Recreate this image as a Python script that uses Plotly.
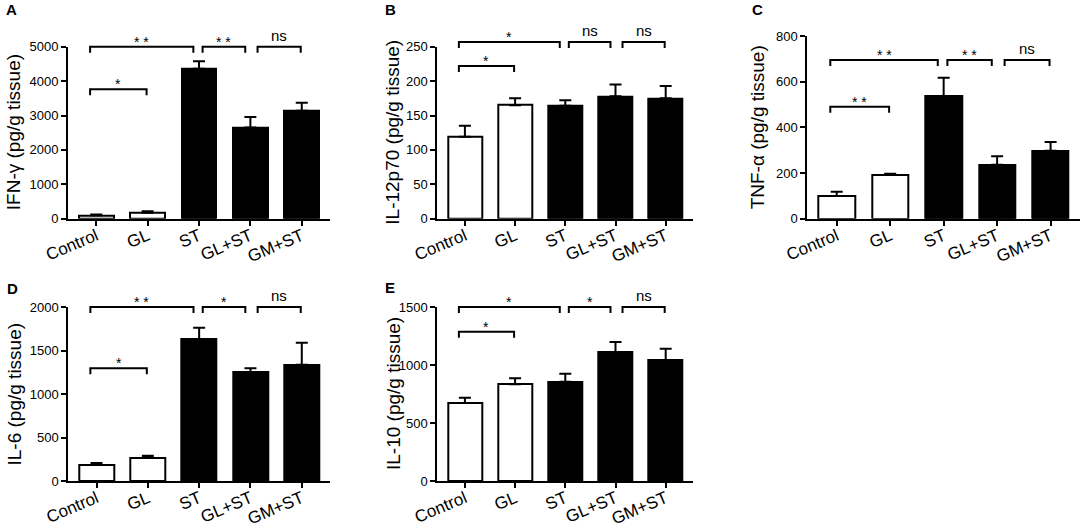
import plotly.graph_objects as go

categories = ["Control", "GL", "ST", "GL+ST", "GM+ST"]
bar_fill = ["white", "white", "black", "black", "black"]

ifn_mean = [100, 175, 4360, 2650, 3140]
ifn_err = [25, 40, 220, 310, 230]
il12_mean = [119, 165, 164, 178, 175]
il12_err = [16, 10, 8, 17, 18]
tnf_mean = [99, 193, 537, 236, 298]
tnf_err = [19, 4, 80, 38, 38]
il6_mean = [184, 268, 1628, 1249, 1337]
il6_err = [23, 23, 134, 46, 253]
il10_mean = [672, 833, 856, 1109, 1040]
il10_err = [46, 52, 69, 89, 101]

# significance: labels for (Control-ST, ST-GL+ST, GL+ST-GM+ST, Control-GL)
ifn_sig = ["* *", "* *", "ns", "*"]
il12_sig = ["*", "ns", "ns", "*"]
tnf_sig = ["* *", "* *", "ns", "* *"]
il6_sig = ["* *", "*", "ns", "*"]
il10_sig = ["*", "*", "ns", "*"]
# bracket heights (top row, Control-GL)
ifn_sig_y = [5000, 3760]
il12_sig_y = [257, 222]
tnf_sig_y = [695, 490]
il6_sig_y = [2000, 1295]
il10_sig_y = [1500, 1287]

y_titles = ["IFN-γ (pg/g tissue)", "IL-12p70 (pg/g tissue)", "TNF-α (pg/g tissue)",
            "IL-6 (pg/g tissue)", "IL-10 (pg/g tissue)"]
y_max = [5000, 250, 800, 2000, 1500]
y_dtick = [1000, 50, 200, 500, 500]
panel_letters = ["A", "B", "C", "D", "E"]

W, H = 1084, 528
FONT = "Arial, Liberation Sans, sans-serif"

# pixel boxes in page coordinates (x0, x1, ytop, ybottom)
boxes = [
    (68, 330, 46.7, 218.7),
    (437.3, 693.3, 46.7, 218.7),
    (807.3, 1080, 36, 218.7),
    (68.3, 330, 307, 481),
    (437.3, 693.3, 307, 481),
]
title_x = [13.5, 393, 757, 13.5, 393]
letter_pos = [(11, 10), (390, 10), (757, 10), (12, 288), (390, 287)]


def px(v):
    return v / W


def py(v):
    return 1 - v / H


# bracket spans in category units (style)
spans = [(-0.12, 1.89), (2.07, 2.9), (3.14, 3.98), (-0.12, 0.98)]

means = [ifn_mean, il12_mean, tnf_mean, il6_mean, il10_mean]
errs = [ifn_err, il12_err, tnf_err, il6_err, il10_err]
sigs = [ifn_sig, il12_sig, tnf_sig, il6_sig, il10_sig]
sig_ys = [ifn_sig_y, il12_sig_y, tnf_sig_y, il6_sig_y, il10_sig_y]

fig = go.Figure()
shapes = []
annotations = []
layout = {}

for i in range(5):
    sfx = "" if i == 0 else str(i + 1)
    xa, ya = "x" + sfx, "y" + sfx
    x0, x1, yt, yb = boxes[i]
    fig.add_trace(go.Bar(
        x=list(range(5)), y=means[i], xaxis=xa, yaxis=ya,
        width=0.68,
        marker=dict(color=bar_fill, line=dict(color="black", width=2)),
        error_y=dict(type="data", symmetric=False, array=errs[i],
                     arrayminus=[0] * 5, color="black", thickness=2, width=6),
        showlegend=False, hoverinfo="skip",
    ))
    layout["xaxis" + sfx] = dict(
        domain=[px(x0), px(x1)], anchor=ya, range=[-0.55, 4.55], automargin=False,
        tickmode="array", tickvals=list(range(5)), ticktext=categories,
        tickangle=-23, ticks="outside", ticklen=5, tickwidth=2, tickcolor="black",
        ticklabelstandoff=-6,
        showline=True, linecolor="black", linewidth=2, showgrid=False, zeroline=False,
        tickfont=dict(family=FONT, size=17, color="black"), fixedrange=True,
    )
    layout["yaxis" + sfx] = dict(
        domain=[py(yb), py(yt)], anchor=xa, range=[0, y_max[i]], automargin=False,
        dtick=y_dtick[i], tick0=0, ticks="outside", ticklen=5, tickwidth=2,
        tickcolor="black", showline=True, linecolor="black", linewidth=2,
        showgrid=False, zeroline=False,
        tickfont=dict(family=FONT, size=13, color="black"), fixedrange=True,
    )
    # y title
    annotations.append(dict(
        text=y_titles[i], xref="paper", yref=ya + " domain", x=px(title_x[i]), y=0.5,
        xanchor="center", yanchor="middle", textangle=-90, showarrow=False,
        font=dict(family=FONT, size=19, color="black"),
    ))
    # panel letter
    lx, ly = letter_pos[i]
    annotations.append(dict(
        text="<b>" + panel_letters[i] + "</b>", xref="paper", yref="paper",
        x=px(lx), y=py(ly), xanchor="center", yanchor="middle", showarrow=False,
        font=dict(family=FONT, size=15, color="black"),
    ))
    # brackets
    for k in range(4):
        sx0, sx1 = spans[k]
        yv = sig_ys[i][0] if k < 3 else sig_ys[i][1]
        yd = yv / y_max[i]
        tick = 6 / (yb - yt)
        shapes.append(dict(
            type="path", xref=xa, yref=ya + " domain",
            path=f"M {sx0},{yd - tick} L {sx0},{yd} L {sx1},{yd} L {sx1},{yd - tick}",
            line=dict(color="black", width=2),
        ))
        lab = sigs[i][k]
        is_ns = lab == "ns"
        annotations.append(dict(
            text=lab, xref=xa, yref=ya + " domain", x=(sx0 + sx1) / 2, y=yd,
            xanchor="center", yanchor="bottom", showarrow=False,
            yshift=1 if is_ns else -5,
            font=dict(family=FONT, size=15 if is_ns else 14, color="black"),
        ))

fig.update_layout(
    width=W, height=H, margin=dict(l=0, r=0, t=0, b=0, autoexpand=False),
    paper_bgcolor="white", plot_bgcolor="white",
    shapes=shapes, annotations=annotations, bargap=0, **layout,
)
fig.write_html("out.html", config={"displayModeBar": False},
               post_script="document.body.style.margin='0';document.body.style.overflow='hidden';")
